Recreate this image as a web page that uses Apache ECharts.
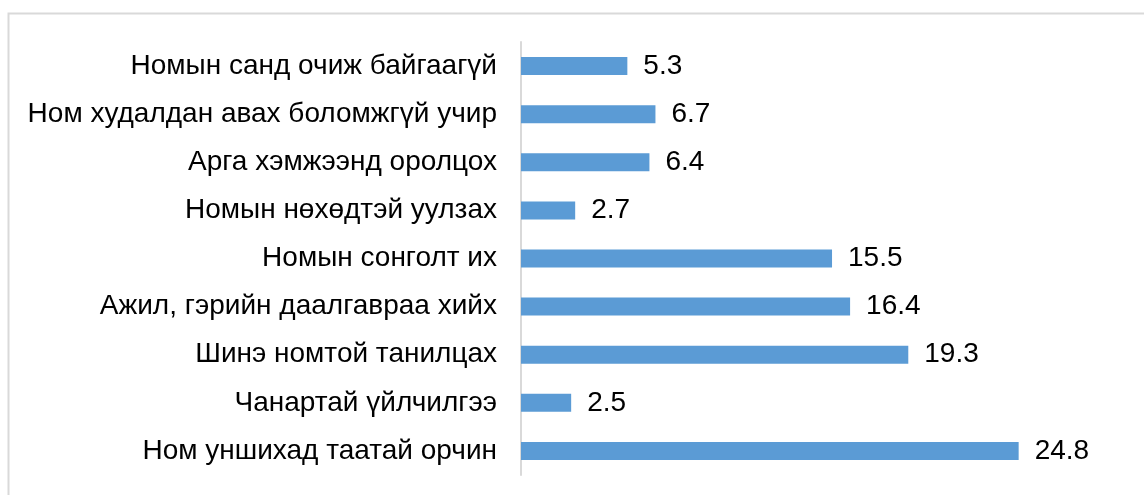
<!DOCTYPE html>
<html>
<head>
<meta charset="utf-8">
<script src="https://cdn.jsdelivr.net/npm/echarts@6/dist/echarts.min.js"></script>
<style>
  html, body { margin: 0; padding: 0; background: #fff; }
  #main { width: 1144px; height: 495px; }
</style>
</head>
<body>
<div id="main"></div>
<script>
// bottom -> top order (category axis starts from bottom)
var categories = [
    'Ном уншихад таатай орчин',
    'Чанартай үйлчилгээ',
    'Шинэ номтой танилцах',
    'Ажил, гэрийн даалгавраа хийх',
    'Номын сонголт их',
    'Номын нөхөдтэй уулзах',
    'Арга хэмжээнд оролцох',
    'Ном худалдан авах боломжгүй учир',
    'Номын санд очиж байгаагүй'
];
var values = [24.8, 2.5, 19.3, 16.4, 15.5, 2.7, 6.4, 6.7, 5.3];

var chart = echarts.init(document.getElementById('main'), null, {renderer: 'canvas'});
var fontFam = '"Liberation Sans", Arial, sans-serif';

chart.setOption({
    animation: false,
    graphic: [{
        type: 'rect',
        shape: {x: 8.5, y: 13.5, width: 1160, height: 500},
        style: {fill: 'none', stroke: '#d9d9d9', lineWidth: 2},
        silent: true
    }],
    grid: {left: 521, right: 21, top: 42, bottom: 20, containLabel: false},
    xAxis: {
        type: 'value',
        min: 0,
        max: 30,
        show: false
    },
    yAxis: {
        type: 'category',
        data: categories,
        axisLine: {show: true, lineStyle: {color: '#d9d9d9', width: 2}},
        axisTick: {show: false},
        axisLabel: {
            color: '#000',
            fontSize: 28,
            fontFamily: fontFam,
            margin: 24
        }
    },
    series: [{
        type: 'bar',
        data: values,
        barWidth: 18,
        itemStyle: {color: '#5b9bd5'},
        label: {
            show: true,
            position: 'right',
            distance: 16,
            color: '#000',
            fontSize: 28,
            fontFamily: fontFam
        }
    }]
});
</script>
</body>
</html>
